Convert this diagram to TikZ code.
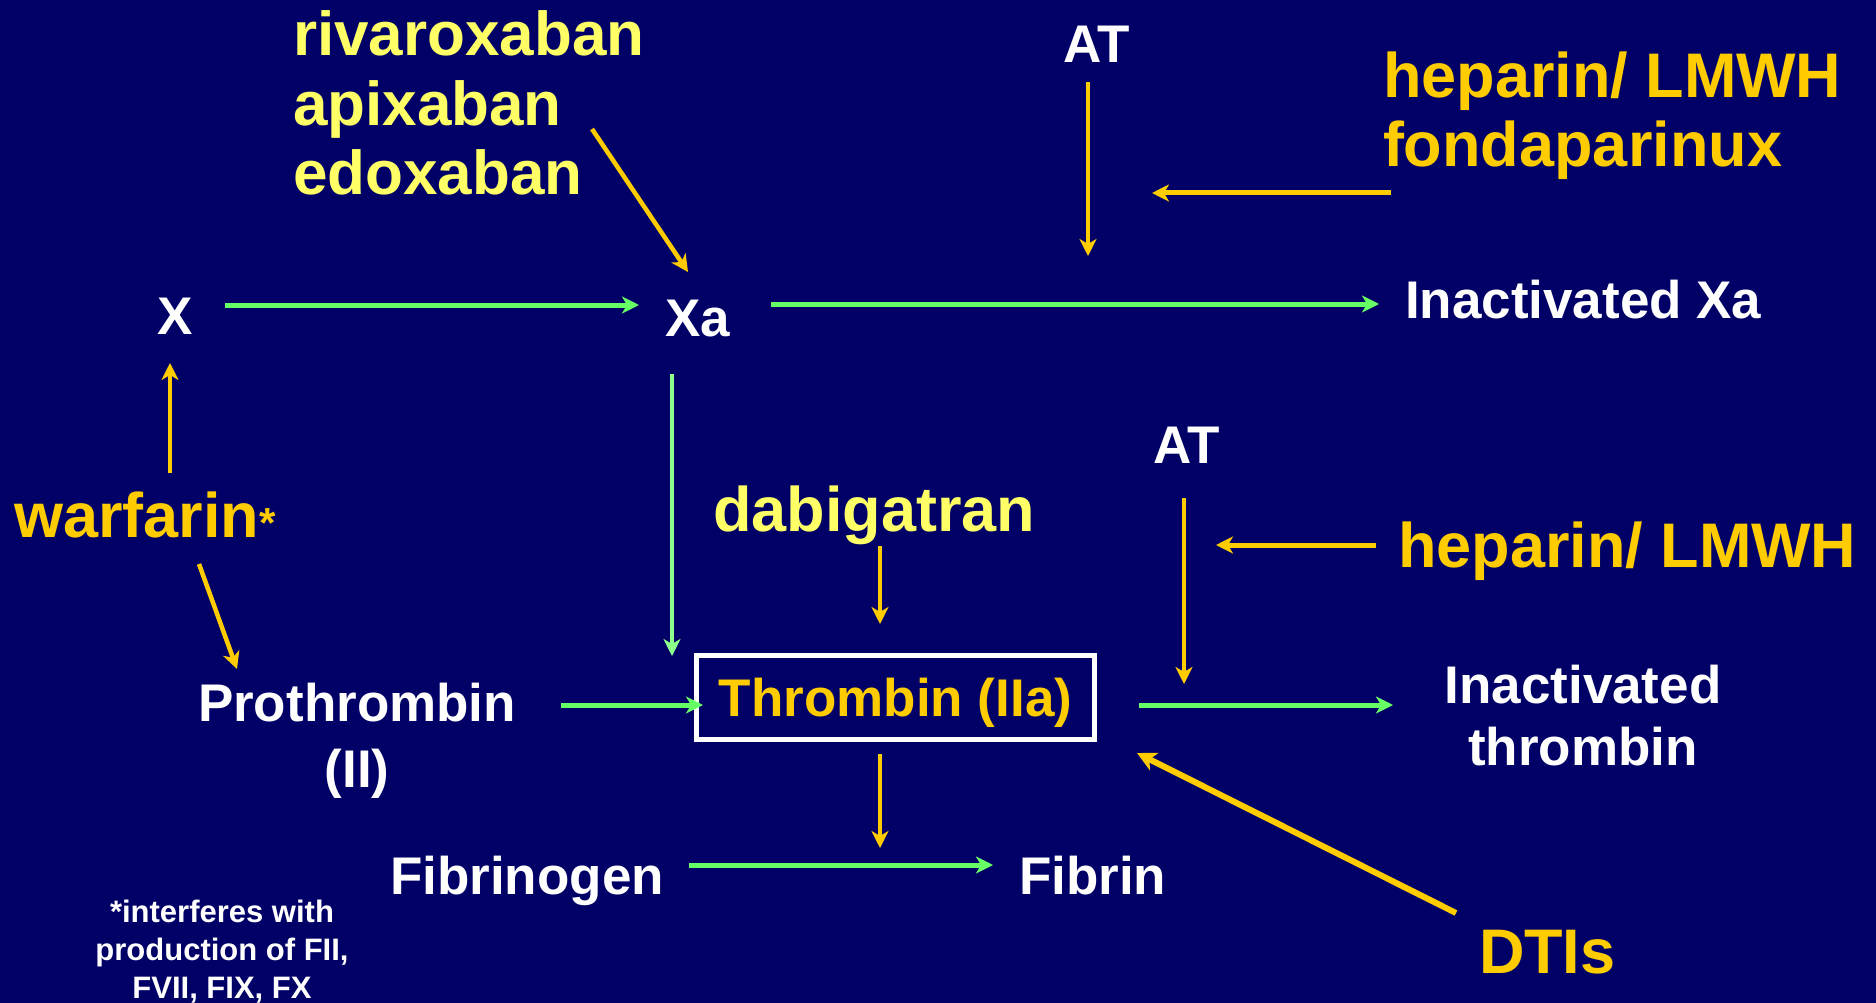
\documentclass[tikz,border=0pt]{standalone}
\usepackage{fontspec}
\setmainfont{Liberation Sans}
\usetikzlibrary{arrows.meta}
\definecolor{bg}{HTML}{000066}
\definecolor{gold}{HTML}{FFCC00}
\definecolor{lyellow}{HTML}{FFFF66}
\definecolor{agreen}{HTML}{66FF66}
\definecolor{pgreen}{HTML}{8CFF8C}
\begin{document}
\begin{tikzpicture}[x=1pt,y=-1pt,
  lab/.style={font=\bfseries\fontsize{53}{62}\selectfont, text=white, inner sep=0pt, outer sep=0pt},
  drug/.style={font=\bfseries\fontsize{63}{69}\selectfont, text=gold, inner sep=0pt, outer sep=0pt},
  ldrug/.style={drug, text=lyellow},
  tip/.style={-{Stealth[length=17pt,width=17pt,inset=5pt]}},
  garrow/.style={tip, draw=agreen, line width=5pt},
  parrow/.style={tip, draw=pgreen, line width=4.5pt},
  yarrow/.style={tip, draw=gold, line width=4.5pt}
]
\fill[bg] (0,0) rectangle (1876,1003);
\useasboundingbox (0,0) rectangle (1876,1003);

% nodes
\node[ldrug, anchor=north west, align=left, font=\bfseries\fontsize{62}{69.5}\selectfont] (riva) at (293,11) {rivaroxaban\\apixaban\\edoxaban};
\node[lab, anchor=base west] (X) at (157,334) {X};
\node[lab, anchor=base west] (Xa) at (665,336) {Xa};
\node[lab, anchor=base west] (InXa) at (1405,318) {Inactivated Xa};
\node[lab, anchor=base west] (AT1) at (1063,63) {AT};
\node[drug, anchor=north west, align=left] (hep1) at (1383,52) {heparin/ LMWH\\fondaparinux};
\node[lab, anchor=base west] (AT2) at (1153,463) {AT};
\node[drug, anchor=base west] (hep2) at (1398,567) {heparin/ LMWH};
\node[drug, anchor=base west] (warf) at (14,537) {warfarin{\fontsize{42}{42}\selectfont*}};
\node[ldrug, anchor=base west] (dabi) at (713,531) {dabigatran};
\node[lab, anchor=north, align=center, font=\bfseries\fontsize{53}{66}\selectfont] (proth) at (357,683) {Prothrombin\\(II)};
\node[lab, text=gold, draw=white, line width=5pt, minimum width=398pt, minimum height=84pt, text height=38pt, text depth=0pt] (thr) at (895.5,697.5) {Thrombin (IIa)};
\node[lab, anchor=north, align=center] (InThr) at (1583,665) {Inactivated\\thrombin};
\node[lab, anchor=base west] (fgen) at (390,894) {Fibrinogen};
\node[lab, anchor=base west] (fib) at (1019,894) {Fibrin};
\node[drug, anchor=base west] (dti) at (1479,973) {DTIs};
\node[lab, anchor=north, align=center, font=\bfseries\fontsize{31}{38}\selectfont] (note) at (222,900) {*interferes with\\production of FII,\\FVII, FIX, FX};

% connector end points
\coordinate (X-o) at (225,305);   \coordinate (Xa-i) at (639,305);
\coordinate (Xa-o) at (771,304);  \coordinate (InXa-i) at (1379,304);
\coordinate (riva-o) at (592,129); \coordinate (Xa-t) at (688,272);
\coordinate (AT1-o) at (1088,82); \coordinate (AT1-i) at (1088,256);
\coordinate (hep1-o) at (1391,193); \coordinate (hep1-i) at (1152,193);
\coordinate (AT2-o) at (1184,498); \coordinate (AT2-i) at (1184,684);
\coordinate (hep2-o) at (1376,545); \coordinate (hep2-i) at (1216,545);
\coordinate (thr-o) at (1139,705); \coordinate (InThr-i) at (1393,705);
\coordinate (dti-o) at (1456,913); \coordinate (thr-r) at (1137,753);
\coordinate (warf-u) at (170,473); \coordinate (X-b) at (170,363);
\coordinate (warf-d) at (199,564); \coordinate (proth-t) at (237,669);
\coordinate (Xa-b) at (672,374); \coordinate (thr-tl) at (672,656);
\coordinate (dabi-o) at (880,546); \coordinate (thr-t) at (880,624);
\coordinate (proth-o) at (561,705); \coordinate (thr-l) at (703,705);
\coordinate (thr-b) at (880,754); \coordinate (fibr-t) at (880,848);
\coordinate (fgen-o) at (689,865); \coordinate (fib-i) at (993,865);

% connectors
\draw[garrow] (X-o) -- (Xa-i);
\draw[garrow] (Xa-o) -- (InXa-i);
\draw[yarrow] (riva-o) -- (Xa-t);
\draw[yarrow] (AT1-o) -- (AT1-i);
\draw[yarrow, line width=5pt] (hep1-o) -- (hep1-i);
\draw[yarrow] (AT2-o) -- (AT2-i);
\draw[yarrow, line width=5pt] (hep2-o) -- (hep2-i);
\draw[garrow] (thr-o) -- (InThr-i);
\draw[yarrow, line width=6pt, -{Stealth[length=19pt,width=19pt,inset=5pt]}] (dti-o) -- (thr-r);
\draw[yarrow] (warf-u) -- (X-b);
\draw[yarrow] (warf-d) -- (proth-t);
\draw[parrow] (Xa-b) -- (thr-tl);
\draw[yarrow, line width=4pt] (dabi-o) -- (thr-t);
\draw[garrow] (proth-o) -- (thr-l);
\draw[yarrow, line width=4pt] (thr-b) -- (fibr-t);
\draw[garrow] (fgen-o) -- (fib-i);
\end{tikzpicture}
\end{document}
